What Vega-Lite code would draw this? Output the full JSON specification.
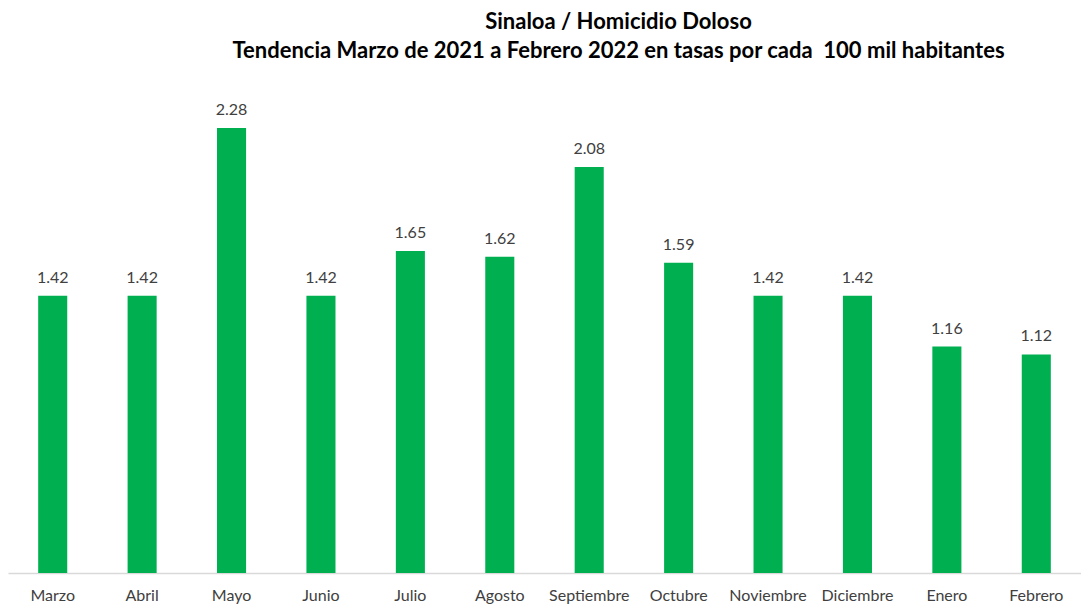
{
  "$schema": "https://vega.github.io/schema/vega-lite/v6.json",
  "width": 1073,
  "height": 488,
  "autosize": "none",
  "padding": {"left": 8, "top": 85, "right": 0, "bottom": 32},
  "background": "white",
  "title": {
    "text": ["Sinaloa / Homicidio Doloso", "Tendencia Marzo de 2021 a Febrero 2022 en tasas por cada\u00a0 100 mil habitantes"],
    "font": "Lato",
    "fontSize": 22,
    "fontWeight": "bold",
    "color": "#000000",
    "lineHeight": 29,
    "anchor": "middle",
    "dx": 74,
    "offset": 22
  },
  "data": {
    "values": [
      {"mes": "Marzo", "tasa": 1.42},
      {"mes": "Abril", "tasa": 1.42},
      {"mes": "Mayo", "tasa": 2.28},
      {"mes": "Junio", "tasa": 1.42},
      {"mes": "Julio", "tasa": 1.65},
      {"mes": "Agosto", "tasa": 1.62},
      {"mes": "Septiembre", "tasa": 2.08},
      {"mes": "Octubre", "tasa": 1.59},
      {"mes": "Noviembre", "tasa": 1.42},
      {"mes": "Diciembre", "tasa": 1.42},
      {"mes": "Enero", "tasa": 1.16},
      {"mes": "Febrero", "tasa": 1.12}
    ]
  },
  "encoding": {
    "x": {
      "field": "mes",
      "type": "nominal",
      "sort": null,
      "scale": {"paddingInner": 0.675, "paddingOuter": 0.3375},
      "axis": {
        "title": null,
        "labelAngle": 0,
        "labelFont": "Lato",
        "labelFontSize": 16,
        "labelColor": "#404040",
        "labelPadding": 14,
        "ticks": false,
        "domainColor": "#D9D9D9",
        "domainWidth": 1.5
      }
    },
    "y": {
      "field": "tasa",
      "type": "quantitative",
      "scale": {"domain": [0, 2.5], "nice": false},
      "axis": null
    }
  },
  "layer": [
    {"mark": {"type": "bar", "color": "#00B050"}},
    {
      "mark": {"type": "text", "baseline": "bottom", "dy": -10, "font": "Lato", "fontSize": 16, "color": "#404040"},
      "encoding": {"text": {"field": "tasa", "type": "quantitative", "format": ".2f"}}
    }
  ],
  "config": {"view": {"stroke": null}}
}
